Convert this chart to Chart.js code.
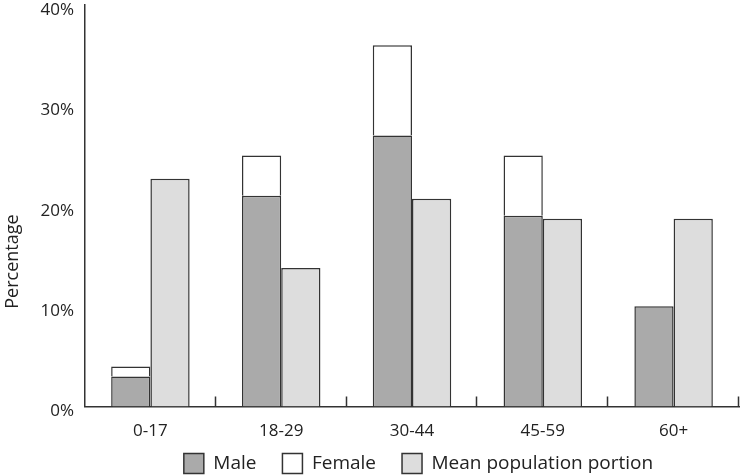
<!DOCTYPE html>
<html>
<head>
<meta charset="utf-8">
<script src="https://cdn.jsdelivr.net/npm/chart.js@4/dist/chart.umd.min.js"></script>
<style>
	html, body { margin: 0; padding: 0; background: #fff; }
	#wrap { width: 740px; height: 476px; }
</style>
</head>
<body>
<div id="wrap"><canvas id="barAge"></canvas></div>
<script>
const ageGroups = ["0-17", "18-29", "30-44", "45-59", "60+"];
const male = [3, 21, 27, 19, 10];
const female = [1, 4, 9, 6, 0];
const meanPopulation = [22.7, 13.8, 20.7, 18.7, 18.7];
const yTicks = [0, 10, 20, 30, 40];

const textColor = "#222";
const lineColor = "#333";

// small upward ticks between the age groups, drawn from the x scale
const groupTicks = {
	id: "groupTicks",
	afterDatasetsDraw(chart) {
		const x = chart.scales.x;
		const ctx = chart.ctx;
		const step = (x.right - x.left) / ageGroups.length;
		ctx.save();
		ctx.strokeStyle = lineColor;
		ctx.lineWidth = 1.5;
		ctx.beginPath();
		for (let i = 1; i <= ageGroups.length; i++) {
			const px = Math.round(x.left + step * i) - 0.5;
			ctx.moveTo(px, x.top);
			ctx.lineTo(px, x.top - 10);
		}
		ctx.stroke();
		ctx.restore();
	}
};

// y title sits lower than the axis middle in the original
const yTitle = {
	id: "yTitle",
	afterDraw(chart) {
		const ctx = chart.ctx;
		ctx.save();
		ctx.translate(13, chart.chartArea.bottom - 145);
		ctx.rotate(-Math.PI / 2);
		ctx.fillStyle = textColor;
		ctx.font = "18px 'Open Sans'";
		ctx.textAlign = "center";
		ctx.textBaseline = "middle";
		ctx.fillText("Percentage", 0, 0);
		ctx.restore();
	}
};

// legend: report a smaller box so the plot gets the room, then move it
const legendShift = {
	id: "legendShift",
	afterInit(chart) {
		const lg = chart.legend;
		const fit = lg.fit;
		lg.fit = function () {
			fit.call(this);
			this.fullHeight = this.height;
			this.height = 27;
		};
	},
	afterLayout(chart) {
		const lg = chart.legend;
		lg.left += 49;
		lg.right += 49;
		lg.top = chart.chartArea.bottom + 21;
		lg.height = lg.fullHeight;
		lg.bottom = lg.top + lg.height;
	}
};

new Chart(
	document.getElementById("barAge"),
	{
		type: "bar",
		data: {
			labels: ageGroups,
			datasets: [{
				label: "Male",
				data: male,
				stack: "survey",
				backgroundColor: "#aaaaaa",
			}, {
				label: "Female",
				data: female,
				stack: "survey",
				backgroundColor: "#ffffff",
			}, {
				label: "Mean population portion",
				data: meanPopulation,
				stack: "population",
				backgroundColor: "#dddddd",
			}],
		},
		options: {
			responsive: true,
			maintainAspectRatio: false,
			animation: false,
			datasets: {
				bar: {
					borderColor: lineColor,
					borderWidth: 1.5,
					categoryPercentage: 0.6,
					barPercentage: 1,
				}
			},
			layout: {
				padding: { left: 0, right: 1, top: 5, bottom: 2 }
			},
			scales: {
				x: {
					stacked: true,
					grid: { display: false },
					border: { display: true, color: lineColor, width: 1.5 },
					ticks: {
						color: textColor,
						font: { family: "'Open Sans'", size: 17 },
						padding: 6,
					}
				},
				y: {
					stacked: true,
					min: 0,
					max: 40,
					afterBuildTicks(scale) {
						scale.ticks = yTicks.map(v => ({ value: v }));
					},
					afterFit(scale) {
						scale.width = 85;
						scale.paddingTop = 0;
						scale.paddingBottom = 0;
					},
					grid: { display: false, drawTicks: false },
					border: { display: true, color: lineColor, width: 1.5 },
					ticks: {
						color: textColor,
						font: { family: "'Open Sans'", size: 17 },
						padding: 11,
						labelOffset: 5,
						callback: v => v + "%"
					}
				}
			},
			plugins: {
				legend: {
					position: "bottom",
					labels: {
						color: textColor,
						font: { family: "'Open Sans'", size: 19 },
						boxWidth: 20,
						boxHeight: 20,
						padding: 26,
					}
				},
				tooltip: { enabled: false }
			}
		},
		plugins: [groupTicks, yTitle, legendShift]
	}
)
</script>
</body>
</html>
